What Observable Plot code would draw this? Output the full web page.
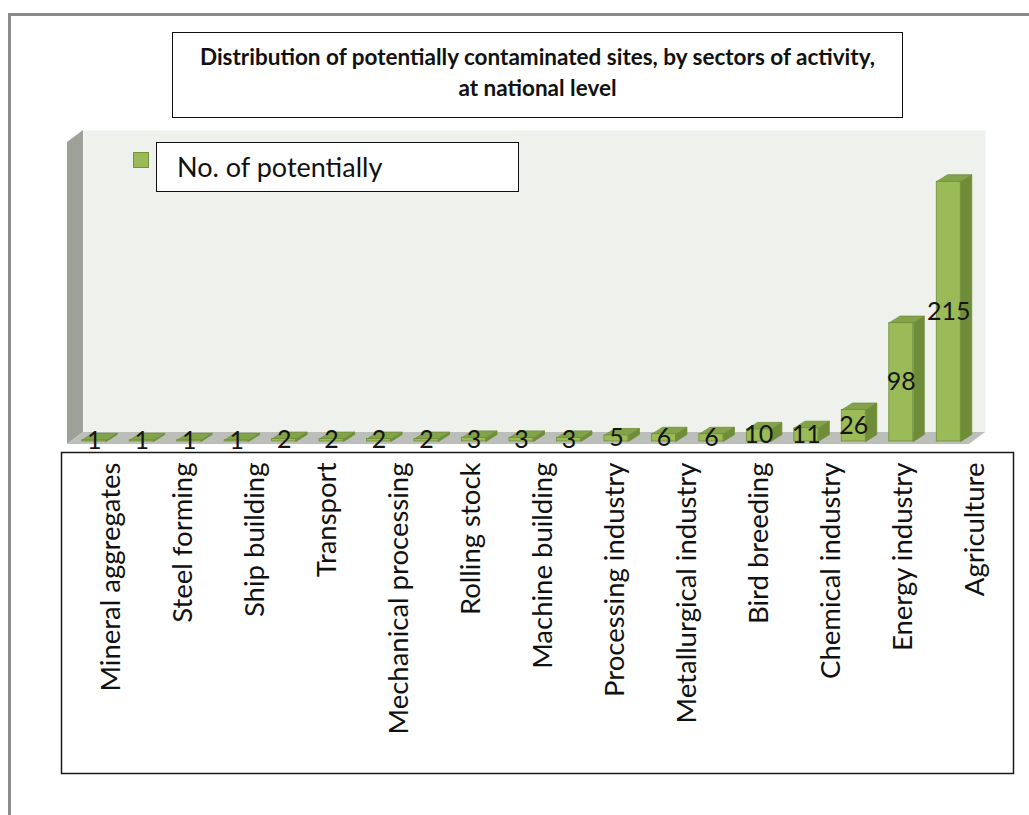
<!DOCTYPE html>
<html>
<head>
<meta charset="utf-8">
<script src="https://cdn.jsdelivr.net/npm/d3@7"></script>
<script src="https://cdn.jsdelivr.net/npm/@observablehq/plot@0.6"></script>
<style>
  html, body { margin: 0; padding: 0; background: #fff; }
  body { width: 1029px; height: 815px; position: relative; overflow: hidden;
         font-family: Lato, "Open Sans", sans-serif; color: #111; }
  .page-frame { position: absolute; left: 8px; top: 13px; width: 1100px; height: 900px;
                border-top: 3px solid #8b8b8b; border-left: 3px solid #8b8b8b; }
  #title { position: absolute; left: 172px; top: 32px; width: 731px; height: 86px;
           box-sizing: border-box; border: 1.5px solid #111; background: #fff;
           text-align: center; font-weight: 700; font-size: 22.5px; line-height: 31px; padding-top: 8px;
           white-space: nowrap; }
  #bars { position: absolute; left: 0; top: 120px; }
  #legend-swatch { position: absolute; left: 133px; top: 152px; width: 16px; height: 16px;
                   box-sizing: border-box; background: #9bbb59; border: 1.5px solid #76923c; }
  #legend-box { position: absolute; left: 156px; top: 142px; width: 363px; height: 50px;
                box-sizing: border-box; border: 1.5px solid #111; background: #fff; }
  #legend-text { position: absolute; left: 0; top: 0; right: 0;
                 padding: 8px 0 0 20px; box-sizing: border-box; font-size: 27px; line-height: 1.2; white-space: nowrap; }
  #labels { position: absolute; left: 61px; top: 452px; }
</style>
</head>
<body>
<div class="page-frame"></div>
<div id="bars"></div>
<div id="title"></div>
<div id="legend-swatch"></div>
<div id="legend-box"><div id="legend-text"></div></div>
<div id="labels"></div>
<script>
// Chart text
const titleLines = [
  "Distribution of potentially contaminated sites, by sectors of activity,",
  "at national level"
];
const seriesName = "No. of potentially";

// Sector names listed in the category box
const sectorLabels = [
  "Mineral aggregates", "Steel forming", "Ship building", "Transport",
  "Mechanical processing", "Rolling stock", "Machine building", "Processing industry",
  "Metallurgical industry", "Bird breeding", "Chemical industry", "Energy industry",
  "Agriculture"
];

// Number of potentially contaminated sites per bar, in drawing order
const siteCounts = [1, 1, 1, 1, 2, 2, 2, 2, 3, 3, 3, 5, 6, 6, 10, 11, 26, 98, 215];

const axisMax = 250;

// Colours of the 3-D bars and walls
const FRONT = "#9bbb59", TOP = "#83a34a", SIDE = "#6f8d38", EDGE = "#6f8d38";
const WALL = "#eff2ec", SIDEWALL = "#9da19a", FLOOR = "#bcbeb9";

document.getElementById("title").innerHTML = titleLines.join("<br>");
document.getElementById("legend-text").textContent = seriesName;

// ---- bar chart ----
const W = 1029, H = 340;
const M = {top: 10, right: 44, bottom: 28, left: 83};
const unitX = (W - M.left - M.right) / siteCounts.length;   // px per category
const unitY = (H - M.top - M.bottom) / axisMax;             // px per site
const half = 12 / unitX;          // half width of a bar front
const depthX = 11 / unitX;        // bar depth, horizontal part
const depthY = 7 / unitY;         // bar depth, vertical part
const shift = {dx: -13, dy: 9};   // bars stand in front of the back wall

const bars = siteCounts.map((v, i) => ({i, v}));
const sidePts = bars.flatMap(({i, v}) => [
  {i, x: i + half, y: 0},
  {i, x: i + half + depthX, y: depthY},
  {i, x: i + half + depthX, y: v + depthY},
  {i, x: i + half, y: v}
]);
const topPts = bars.flatMap(({i, v}) => [
  {i, x: i - half, y: v},
  {i, x: i + half, y: v},
  {i, x: i + half + depthX, y: v + depthY},
  {i, x: i - half + depthX, y: v + depthY}
]);

const chart = Plot.plot({
  width: W, height: H,
  marginTop: M.top, marginRight: M.right, marginBottom: M.bottom, marginLeft: M.left,
  x: {type: "linear", domain: [-0.5, siteCounts.length - 0.5], axis: null},
  y: {type: "linear", domain: [0, axisMax], axis: null},
  style: {fontFamily: "Lato, 'Open Sans', sans-serif", overflow: "visible", background: "transparent"},
  marks: [
    Plot.frame({fill: WALL, stroke: "none"}),
    Plot.line(sidePts, {x: "x", y: "y", z: "i", curve: "linear-closed", fill: SIDE, stroke: EDGE, strokeWidth: 0.8, ...shift}),
    Plot.line(topPts, {x: "x", y: "y", z: "i", curve: "linear-closed", fill: TOP, stroke: EDGE, strokeWidth: 0.8, ...shift}),
    Plot.rect(bars, {x1: d => d.i - half, x2: d => d.i + half, y1: d => 0, y2: d => d.v,
                     fill: FRONT, stroke: EDGE, strokeWidth: 0.8, ...shift}),
    Plot.text(bars, {x: "i", y: d => d.v / 2, text: d => String(d.v),
                     fontSize: 25, fill: "#151515", ...shift})
  ]
});

// Side wall and floor of the 3-D box, placed behind the bars
{
  const [x0, x1] = chart.scale("x").range;
  const [y0, y1] = chart.scale("y").range;   // y0 = floor line, y1 = top of wall
  const ox = -16, oy = 12;
  const g = d3.create("svg:g");
  g.append("polygon").attr("fill", SIDEWALL)
    .attr("points", [[x0, y1], [x0 + ox, y1 + oy], [x0 + ox, y0 + oy], [x0, y0]].join(" "));
  g.append("polygon").attr("fill", FLOOR)
    .attr("points", [[x0, y0], [x1, y0], [x1 + ox, y0 + oy], [x0 + ox, y0 + oy]].join(" "));
  const frame = chart.querySelector('[aria-label="frame"]');
  frame.after(g.node());
}
document.getElementById("bars").append(chart);

// ---- category labels box ----
const labelsPanel = Plot.plot({
  width: 952, height: 321,
  margin: 0,
  x: {type: "point", domain: sectorLabels, range: [39, 903], padding: 0, axis: null},
  style: {fontFamily: "Lato, 'Open Sans', sans-serif", overflow: "visible", background: "transparent"},
  marks: [
    Plot.frame({stroke: "#1a1a1a", strokeWidth: 1.5}),
    Plot.text(sectorLabels, {x: d => d, frameAnchor: "top", rotate: -90, textAnchor: "end",
                             dy: 10, fontSize: 27.5, fill: "#111"})
  ]
});
document.getElementById("labels").append(labelsPanel);
</script>
</body>
</html>
